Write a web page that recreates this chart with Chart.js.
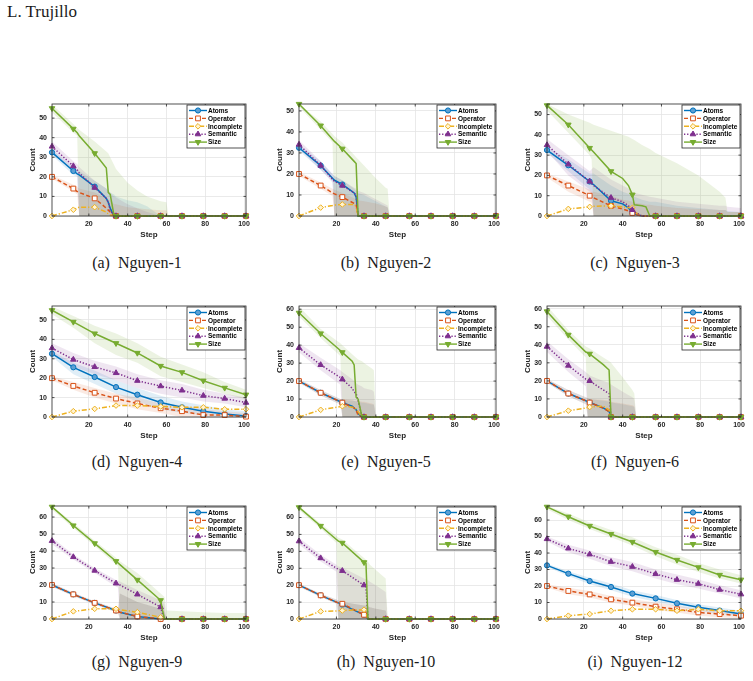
<!DOCTYPE html>
<html>
<head>
<meta charset="utf-8">
<script src="https://cdn.jsdelivr.net/npm/chart.js@4.4.1/dist/chart.umd.min.js"></script>
<style>
  body { margin: 0; background: #fff; width: 753px; height: 681px; position: relative; overflow: hidden; font-family: "Liberation Serif", serif; }
  .hdr { position: absolute; left: 7px; top: 2px; font-size: 17px; color: #1a1a1a; }
  .cap { position: absolute; width: 220px; text-align: center; font-size: 16px; color: #1a1a1a; white-space: pre; line-height: 18px; }
  canvas { position: absolute; }
</style>
</head>
<body>
<div class="hdr">L. Trujillo</div>
<script>
// marker positions (every ~11 steps) and x tick labels
const MARKS = [1, 12, 23, 34, 45, 57, 68, 79, 90, 101];
const X_TICKS = [20, 40, 60, 80, 100];
const SERIES = ["Atoms", "Operator", "Incomplete", "Semantic", "Size"];

// (a) Nguyen-1
const n1Steps = [1, 12, 14, 15, 23, 29, 30, 31, 33, 34, 40, 45, 50, 57, 60, 61, 68, 79, 90, 101];
const n1Atoms = [32.5, 23, 21.5, 21, 15, 9, 7, 4, 0, 0, 0, 0, 0, 0, 0, 0, 0, 0, 0, 0];
const n1Operator = [20, 14, 12.5, 12, 9, 4, 3, 2, 0, 0, 0, 0, 0, 0, 0, 0, 0, 0, 0, 0];
const n1Incomplete = [0, 3.2, 4, 4.5, 4.5, 2, 1, 0.5, 0, 0, 0, 0, 0, 0, 0, 0, 0, 0, 0, 0];
const n1Semantic = [35.5, 25.5, 23.5, 22, 14.5, 9, 7, 3, 0, 0, 0, 0, 0, 0, 0, 0, 0, 0, 0, 0];
const n1Size = [55, 44.5, 42.5, 41, 32, 24.5, 12, 11, 0, 0, 0, 0, 0, 0, 0, 0, 0, 0, 0, 0];
const n1SizeHi = [57, 47, 45, 44, 38, 33, 32, 30, 26, 24, 17, 13, 10, 7.5, 7, 0, 0, 0, 0, 0];
const n1SizeLo = [53, 42.5, 41, 0, 0, 0, 0, 0, 0, 0, 0, 0, 0, 0, 0, 0, 0, 0, 0, 0];
const n1SemHi = [38, 28, 26.5, 25, 18, 14, 13, 12, 10, 9.5, 6, 4, 2, 0, 0, 0, 0, 0, 0, 0];
const n1SemLo = [33, 23, 21.5, 0, 0, 0, 0, 0, 0, 0, 0, 0, 0, 0, 0, 0, 0, 0, 0, 0];
const n1AtomsHi = [34, 25, 24, 23, 18, 14, 13, 12, 11, 10, 8, 7, 5, 0, 0, 0, 0, 0, 0, 0];
const n1AtomsLo = [31, 21, 20, 0, 0, 0, 0, 0, 0, 0, 0, 0, 0, 0, 0, 0, 0, 0, 0, 0];
const n1OpHi = [21, 16, 15, 14, 12, 9, 8.5, 8, 6, 6, 4.5, 4, 3.5, 3, 3, 0, 0, 0, 0, 0];
const n1OpLo = [19, 12.5, 11, 0, 0, 0, 0, 0, 0, 0, 0, 0, 0, 0, 0, 0, 0, 0, 0, 0];

// (b) Nguyen-2
const n2Steps = [1, 12, 18, 19, 23, 29, 30, 31, 34, 40, 45, 46, 47, 57, 68, 79, 90, 101];
const n2Atoms = [32.5, 24, 18, 17, 15, 11, 9, 0, 0, 0, 0, 0, 0, 0, 0, 0, 0, 0];
const n2Operator = [20, 14.5, 11, 10.5, 9, 6, 5.5, 0, 0, 0, 0, 0, 0, 0, 0, 0, 0, 0];
const n2Incomplete = [0, 4, 5, 5.2, 5.5, 5.5, 4.5, 0, 0, 0, 0, 0, 0, 0, 0, 0, 0, 0];
const n2Semantic = [34, 24, 17.5, 16.5, 14.5, 11, 10, 0, 0, 0, 0, 0, 0, 0, 0, 0, 0, 0];
const n2Size = [53.3, 43, 36.5, 35.5, 32, 26, 25, 0, 0, 0, 0, 0, 0, 0, 0, 0, 0, 0];
const n2SizeHi = [53.3, 45, 39, 38, 35, 29, 28, 27, 24, 18, 13.5, 13, 0, 0, 0, 0, 0, 0];
const n2SizeLo = [52, 41, 35, 0, 0, 0, 0, 0, 0, 0, 0, 0, 0, 0, 0, 0, 0, 0];
const n2SemHi = [36, 26, 20, 19, 17, 13.5, 13, 12, 11, 8, 5.5, 5, 0, 0, 0, 0, 0, 0];
const n2SemLo = [32, 22, 16, 0, 0, 0, 0, 0, 0, 0, 0, 0, 0, 0, 0, 0, 0, 0];
const n2AtomsHi = [34, 26, 20, 19, 17, 13, 12, 11, 10, 7, 4.5, 4, 0, 0, 0, 0, 0, 0];
const n2AtomsLo = [31, 22, 16.5, 0, 0, 0, 0, 0, 0, 0, 0, 0, 0, 0, 0, 0, 0, 0];
const n2OpHi = [21, 16, 13, 12.5, 11, 8.5, 8, 7.5, 7, 6, 4.5, 4, 0, 0, 0, 0, 0, 0];
const n2OpLo = [19, 13, 9.5, 0, 0, 0, 0, 0, 0, 0, 0, 0, 0, 0, 0, 0, 0, 0];

// (c) Nguyen-3
const n3Steps = [1, 12, 23, 24, 25, 34, 40, 43, 45, 46, 50, 52, 54, 57, 68, 79, 90, 93, 94, 101];
const n3Atoms = [32.5, 25, 17, 16, 15.5, 7.5, 6, 4, 1.5, 1, 0, 0, 0, 0, 0, 0, 0, 0, 0, 0];
const n3Operator = [20, 15, 10, 9.5, 9, 5, 3.5, 2.5, 1.5, 1, 0, 0, 0, 0, 0, 0, 0, 0, 0, 0];
const n3Incomplete = [0, 3.5, 4.5, 4.7, 4.8, 5, 4.5, 4.2, 4, 2, 0, 0, 0, 0, 0, 0, 0, 0, 0, 0];
const n3Semantic = [35, 25.5, 17, 16, 15, 9, 7, 5, 3, 2, 0, 0, 0, 0, 0, 0, 0, 0, 0, 0];
const n3Size = [54.5, 45, 33.5, 32.5, 31.5, 22, 18.5, 15, 10.5, 5.5, 5, 4.5, 0, 0, 0, 0, 0, 0, 0, 0];
const n3SizeHi = [55.2, 50, 46, 45.5, 45, 42, 40, 39, 38, 37.5, 35, 34, 33, 31, 26, 20, 12, 9, 2, 2];
const n3SizeLo = [52, 41, 30, 28, 0, 0, 0, 0, 0, 0, 0, 0, 0, 0, 0, 0, 0, 0, 0, 0];
const n3SemHi = [38, 30, 22, 23, 24, 18, 15, 13.5, 12, 11.5, 10.5, 10, 9.5, 9, 7, 6, 5, 5, 4.5, 4];
const n3SemLo = [32, 20, 12, 11, 0, 0, 0, 0, 0, 0, 0, 0, 0, 0, 0, 0, 0, 0, 0, 0];
const n3AtomsHi = [34, 28, 21, 21, 21, 15, 12, 11, 10, 9.5, 8, 7.5, 7, 7, 5, 4, 3, 3, 2.5, 2];
const n3AtomsLo = [31, 22, 13, 12, 0, 0, 0, 0, 0, 0, 0, 0, 0, 0, 0, 0, 0, 0, 0, 0];
const n3OpHi = [21, 17, 13, 12, 12, 10, 8, 7.5, 7, 6.5, 6, 5.5, 5.5, 5, 4, 3.5, 3, 3, 2, 2];
const n3OpLo = [19, 12, 7, 6.5, 0, 0, 0, 0, 0, 0, 0, 0, 0, 0, 0, 0, 0, 0, 0, 0];

// (d) Nguyen-4
const n4Steps = [1, 12, 23, 34, 45, 57, 68, 79, 90, 101];
const n4Atoms = [32.6, 25.6, 20.6, 15.4, 11.5, 7.5, 5, 3, 1.5, 0.5];
const n4Operator = [20, 16, 12.5, 9.5, 7, 4.5, 3, 1, 1, 0.2];
const n4Incomplete = [0, 3, 4.2, 5.9, 5.9, 5.4, 5, 5, 4, 4];
const n4Semantic = [35.5, 29.6, 25.8, 22.7, 18.7, 15.9, 13.7, 11, 9.5, 7.4];
const n4Size = [55, 49, 43, 38, 33, 26.3, 23, 18.7, 15, 11.5];
const n4SizeHi = [57, 52, 47, 43, 38, 31, 27, 23, 18, 14];
const n4SizeLo = [53, 46, 38, 32, 28, 21, 18, 15, 12, 9];
const n4SemHi = [38, 33, 29, 26, 22, 19, 17, 14, 12, 10];
const n4SemLo = [33, 26, 22, 19, 15, 12, 10, 8, 7, 5];
const n4AtomsHi = [34, 28, 24, 19, 15, 11, 8, 6, 4, 3];
const n4AtomsLo = [31, 22, 17, 12, 8, 4, 2, 1, 0, 0];
const n4OpHi = [21, 18, 15, 12, 10, 7, 6, 4, 3, 2];
const n4OpLo = [19, 14, 10, 7, 4, 2, 0, 0, 0, 0];

// (e) Nguyen-5
const n5Steps = [1, 12, 22, 23, 28, 29, 30, 31, 33, 34, 38, 39, 40, 45, 57, 68, 79, 90, 101];
const n5Atoms = [20, 13.5, 8.5, 8, 6, 5, 4, 2, 0, 0, 0, 0, 0, 0, 0, 0, 0, 0, 0];
const n5Operator = [20, 13.5, 8.5, 8, 5.5, 5, 4, 1, 0, 0, 0, 0, 0, 0, 0, 0, 0, 0, 0];
const n5Incomplete = [0, 4, 5.8, 6, 5.5, 5, 4.5, 3, 0, 0, 0, 0, 0, 0, 0, 0, 0, 0, 0];
const n5Semantic = [38.5, 29, 22, 21, 16, 14, 13, 9, 0, 0, 0, 0, 0, 0, 0, 0, 0, 0, 0];
const n5Size = [58, 46.5, 37, 36, 31, 29, 11, 10, 0, 0, 0, 0, 0, 0, 0, 0, 0, 0, 0];
const n5SizeHi = [61.5, 49, 41, 40, 35, 34, 33, 32, 31, 30, 27, 26, 0, 0, 0, 0, 0, 0, 0];
const n5SizeLo = [56, 44, 34, 0, 0, 0, 0, 0, 0, 0, 0, 0, 0, 0, 0, 0, 0, 0, 0];
const n5SemHi = [41, 33, 26, 25, 21, 20, 19, 18, 17, 16, 15, 14, 0, 0, 0, 0, 0, 0, 0];
const n5SemLo = [36, 26, 18, 0, 0, 0, 0, 0, 0, 0, 0, 0, 0, 0, 0, 0, 0, 0, 0];
const n5AtomsHi = [21, 15, 10, 9.5, 9, 9, 8.5, 8.5, 8, 8, 7, 7, 0, 0, 0, 0, 0, 0, 0];
const n5AtomsLo = [19, 12, 7, 0, 0, 0, 0, 0, 0, 0, 0, 0, 0, 0, 0, 0, 0, 0, 0];
const n5OpHi = [21, 15, 10, 10, 9.5, 9, 9, 9, 8.5, 8.5, 7.5, 7, 0, 0, 0, 0, 0, 0, 0];
const n5OpLo = [19, 12, 7, 0, 0, 0, 0, 0, 0, 0, 0, 0, 0, 0, 0, 0, 0, 0, 0];

// (f) Nguyen-6
const n6Steps = [1, 12, 21, 22, 23, 30, 33, 34, 40, 45, 46, 47, 57, 68, 79, 90, 101];
const n6Atoms = [20, 13, 9, 8.5, 8, 5, 3, 0, 0, 0, 0, 0, 0, 0, 0, 0, 0];
const n6Operator = [20, 13, 9, 8.5, 8, 5, 3, 0, 0, 0, 0, 0, 0, 0, 0, 0, 0];
const n6Incomplete = [0, 3.5, 5, 5.2, 5.5, 6, 4, 0, 0, 0, 0, 0, 0, 0, 0, 0, 0];
const n6Semantic = [39, 28.5, 21, 20.5, 20, 15, 13, 0, 0, 0, 0, 0, 0, 0, 0, 0, 0];
const n6Size = [58.5, 45.5, 36, 35.5, 35, 29, 26, 0, 0, 0, 0, 0, 0, 0, 0, 0, 0];
const n6SizeHi = [61.5, 48, 39, 38.5, 38, 33, 31, 30, 22, 15, 13, 0, 0, 0, 0, 0, 0];
const n6SizeLo = [56, 43, 33, 0, 0, 0, 0, 0, 0, 0, 0, 0, 0, 0, 0, 0, 0];
const n6SemHi = [42, 32, 25, 24, 23, 20, 19, 18, 14, 11, 10, 0, 0, 0, 0, 0, 0];
const n6SemLo = [36, 25, 17, 0, 0, 0, 0, 0, 0, 0, 0, 0, 0, 0, 0, 0, 0];
const n6AtomsHi = [21, 15, 11, 10.5, 10, 9, 8.5, 8, 7, 6, 5.5, 0, 0, 0, 0, 0, 0];
const n6AtomsLo = [19, 11.5, 7, 0, 0, 0, 0, 0, 0, 0, 0, 0, 0, 0, 0, 0, 0];
const n6OpHi = [21, 15, 11, 10.5, 10, 9.5, 9, 8.5, 7.5, 6.5, 6, 0, 0, 0, 0, 0, 0];
const n6OpLo = [19, 11.5, 7, 0, 0, 0, 0, 0, 0, 0, 0, 0, 0, 0, 0, 0, 0];

// (g) Nguyen-9
const n9Steps = [1, 12, 23, 34, 35, 36, 45, 57, 58, 59, 60, 68, 79, 90, 101];
const n9Atoms = [20, 14.5, 9.5, 5, 4.5, 4, 1.5, 0, 0, 0, 0, 0, 0, 0, 0];
const n9Operator = [20, 14.5, 9.5, 5, 4.5, 4, 1.5, 0, 0, 0, 0, 0, 0, 0, 0];
const n9Incomplete = [0, 4.5, 6, 6, 5.8, 5.5, 4, 1, 0.5, 0, 0, 0, 0, 0, 0];
const n9Semantic = [46, 36.5, 28.5, 21, 20.5, 20, 14.5, 7, 3, 0, 0, 0, 0, 0, 0];
const n9Size = [66, 55, 44.5, 34, 33, 32, 23, 11, 5, 0, 0, 0, 0, 0, 0];
const n9SizeHi = [66.5, 56.5, 46, 36, 35, 34, 27, 15, 14, 13, 5, 4.5, 4, 3.5, 3.5];
const n9SizeLo = [64.5, 53.5, 43, 32, 31, 0, 0, 0, 0, 0, 0, 0, 0, 0, 0];
const n9SemHi = [48, 38, 30, 23, 22.5, 22, 17, 11, 10, 9, 0, 0, 0, 0, 0];
const n9SemLo = [44, 35, 27, 19, 18.5, 0, 0, 0, 0, 0, 0, 0, 0, 0, 0];
const n9AtomsHi = [21, 15.5, 10.5, 6, 6, 15, 10, 6, 5, 4, 0, 0, 0, 0, 0];
const n9AtomsLo = [19, 13.5, 8.5, 4, 3.5, 0, 0, 0, 0, 0, 0, 0, 0, 0, 0];
const n9OpHi = [21, 15.5, 10.5, 6, 6, 15, 10, 6, 5.5, 5, 0, 0, 0, 0, 0];
const n9OpLo = [19, 13.5, 8.5, 4, 3.5, 0, 0, 0, 0, 0, 0, 0, 0, 0, 0];

// (h) Nguyen-10
const n10Steps = [1, 12, 20, 21, 23, 34, 35, 36, 37, 40, 45, 46, 57, 68, 79, 90, 101];
const n10Atoms = [20, 14, 10, 9.5, 8.5, 2.5, 1.5, 0, 0, 0, 0, 0, 0, 0, 0, 0, 0];
const n10Operator = [20, 14, 10, 9.5, 9, 2.5, 1.5, 0, 0, 0, 0, 0, 0, 0, 0, 0, 0];
const n10Incomplete = [0, 4.5, 4.8, 4.9, 5, 5.5, 4, 0, 0, 0, 0, 0, 0, 0, 0, 0, 0];
const n10Semantic = [46, 36, 30, 29.5, 28.5, 20, 19, 0, 0, 0, 0, 0, 0, 0, 0, 0, 0];
const n10Size = [66, 55, 47, 46, 45, 33.5, 33, 0, 0, 0, 0, 0, 0, 0, 0, 0, 0];
const n10SizeHi = [66.8, 56.5, 49, 48, 47, 36, 35, 34, 32, 29, 24, 0, 0, 0, 0, 0, 0];
const n10SizeLo = [64.5, 53.5, 45, 0, 0, 0, 0, 0, 0, 0, 0, 0, 0, 0, 0, 0, 0];
const n10SemHi = [48, 38, 32, 31, 30.5, 24, 23.5, 23, 22, 20, 16, 0, 0, 0, 0, 0, 0];
const n10SemLo = [44, 34, 28, 0, 0, 0, 0, 0, 0, 0, 0, 0, 0, 0, 0, 0, 0];
const n10AtomsHi = [21, 15, 11.5, 11, 10, 8, 8, 7.5, 7, 6, 5, 0, 0, 0, 0, 0, 0];
const n10AtomsLo = [19, 13, 9, 0, 0, 0, 0, 0, 0, 0, 0, 0, 0, 0, 0, 0, 0];
const n10OpHi = [21, 15, 11.5, 11, 10, 8, 8, 7.5, 7, 6, 5, 0, 0, 0, 0, 0, 0];
const n10OpLo = [19, 13, 9, 0, 0, 0, 0, 0, 0, 0, 0, 0, 0, 0, 0, 0, 0];

// (i) Nguyen-12
const n12Steps = [1, 12, 23, 34, 45, 57, 68, 79, 90, 101];
const n12Atoms = [32.5, 27.5, 23, 19.4, 15.4, 12.5, 9.5, 7.1, 5.1, 3];
const n12Operator = [20, 17, 14.9, 11.9, 9.9, 7.5, 5.9, 4, 3, 2];
const n12Incomplete = [0, 2, 3, 5, 5.9, 5.9, 5, 5.9, 5, 5];
const n12Semantic = [48.5, 42.8, 39.2, 34.7, 31.7, 27.3, 23.8, 21.4, 17.8, 15];
const n12Size = [68, 62, 56.4, 51.5, 46.7, 40.6, 35.8, 31.3, 26.7, 23.8];
const n12SizeHi = [68.5, 64, 58.5, 54, 49.5, 43.5, 39, 34, 30, 26.5];
const n12SizeLo = [66.5, 60, 54.5, 49.5, 44.5, 38, 33, 28.5, 24.5, 21.5];
const n12SemHi = [50, 45, 41.5, 37.5, 34.5, 30, 27, 24, 20.5, 17.5];
const n12SemLo = [47, 40.5, 36.5, 32, 29, 24.5, 21, 18.5, 15.5, 12.5];
const n12AtomsHi = [33.5, 29, 25, 21.5, 17.5, 14.5, 11.5, 9, 7, 5];
const n12AtomsLo = [31.5, 26, 21, 17.5, 13.5, 10.5, 7.5, 5, 3, 1.5];
const n12OpHi = [21, 19, 17, 14, 12, 10, 8, 6, 5, 4];
const n12OpLo = [19, 15, 13, 10, 8, 5.5, 4, 2, 1, 0.5];

const panels = [
  { caption: "(a)  Nguyen-1", ymax: 57.2, steps: n1Steps, lines: [n1Atoms, n1Operator, n1Incomplete, n1Semantic, n1Size],
    bands: [[n1AtomsHi, n1AtomsLo], [n1OpHi, n1OpLo], null, [n1SemHi, n1SemLo], [n1SizeHi, n1SizeLo]] },
  { caption: "(b)  Nguyen-2", ymax: 53.3, steps: n2Steps, lines: [n2Atoms, n2Operator, n2Incomplete, n2Semantic, n2Size],
    bands: [[n2AtomsHi, n2AtomsLo], [n2OpHi, n2OpLo], null, [n2SemHi, n2SemLo], [n2SizeHi, n2SizeLo]] },
  { caption: "(c)  Nguyen-3", ymax: 55.2, steps: n3Steps, lines: [n3Atoms, n3Operator, n3Incomplete, n3Semantic, n3Size],
    bands: [[n3AtomsHi, n3AtomsLo], [n3OpHi, n3OpLo], null, [n3SemHi, n3SemLo], [n3SizeHi, n3SizeLo]] },
  { caption: "(d)  Nguyen-4", ymax: 57.2, steps: n4Steps, lines: [n4Atoms, n4Operator, n4Incomplete, n4Semantic, n4Size],
    bands: [[n4AtomsHi, n4AtomsLo], [n4OpHi, n4OpLo], null, [n4SemHi, n4SemLo], [n4SizeHi, n4SizeLo]] },
  { caption: "(e)  Nguyen-5", ymax: 61.8, steps: n5Steps, lines: [n5Atoms, n5Operator, n5Incomplete, n5Semantic, n5Size],
    bands: [[n5AtomsHi, n5AtomsLo], [n5OpHi, n5OpLo], null, [n5SemHi, n5SemLo], [n5SizeHi, n5SizeLo]] },
  { caption: "(f)  Nguyen-6", ymax: 61.5, steps: n6Steps, lines: [n6Atoms, n6Operator, n6Incomplete, n6Semantic, n6Size],
    bands: [[n6AtomsHi, n6AtomsLo], [n6OpHi, n6OpLo], null, [n6SemHi, n6SemLo], [n6SizeHi, n6SizeLo]] },
  { caption: "(g)  Nguyen-9", ymax: 66.5, steps: n9Steps, lines: [n9Atoms, n9Operator, n9Incomplete, n9Semantic, n9Size],
    bands: [[n9AtomsHi, n9AtomsLo], [n9OpHi, n9OpLo], null, [n9SemHi, n9SemLo], [n9SizeHi, n9SizeLo]] },
  { caption: "(h)  Nguyen-10", ymax: 66.8, steps: n10Steps, lines: [n10Atoms, n10Operator, n10Incomplete, n10Semantic, n10Size],
    bands: [[n10AtomsHi, n10AtomsLo], [n10OpHi, n10OpLo], null, [n10SemHi, n10SemLo], [n10SizeHi, n10SizeLo]] },
  { caption: "(i)  Nguyen-12", ymax: 68.5, steps: n12Steps, lines: [n12Atoms, n12Operator, n12Incomplete, n12Semantic, n12Size],
    bands: [[n12AtomsHi, n12AtomsLo], [n12OpHi, n12OpLo], null, [n12SemHi, n12SemLo], [n12SizeHi, n12SizeLo]] },
];

// page layout (plot area edges in page pixels)
const colLeft = [52, 299, 547];
const colRight = [247, 497, 742];
const rowTop = [103, 305, 505];
const rowBottom = [216, 417, 619];
const capX = [137, 386, 635];
const capY = [263, 462, 662];

const STYLE = {
  Atoms:      { color: "#0072BD", fill: "#5d9fd3", band: "rgba(0,114,189,0.12)",   dash: [],             point: "circle",   rot: 0,   r: 2.6 },
  Operator:   { color: "#D95319", fill: "#ffffff", band: "rgba(217,83,25,0.12)",   dash: [4, 2.5],       point: "rect",     rot: 0,   r: 3.4 },
  Incomplete: { color: "#EDB120", fill: "#fff3d2", band: "rgba(237,177,32,0.10)",  dash: [5, 2, 1.2, 2], point: "rectRot",  rot: 0,   r: 2.8 },
  Semantic:   { color: "#7E2F8E", fill: "#7E2F8E", band: "rgba(126,47,142,0.12)",  dash: [1.3, 1.8],     point: "triangle", rot: 0,   r: 3.2 },
  Size:       { color: "#77AC30", fill: "#77AC30", band: "rgba(119,172,48,0.14)",  dash: [],             point: "triangle", rot: 180, r: 3.2 },
};
const TXT = "#262626";

function drawMarker(ctx, st, x, y) {
  const r = st.r;
  ctx.beginPath();
  if (st.point === "circle") {
    ctx.arc(x, y, r, 0, Math.PI * 2);
  } else if (st.point === "rect") {
    const s = r * Math.SQRT1_2;
    ctx.rect(x - s, y - s, 2 * s, 2 * s);
  } else if (st.point === "rectRot") {
    ctx.moveTo(x, y - r); ctx.lineTo(x + r, y); ctx.lineTo(x, y + r); ctx.lineTo(x - r, y);
  } else {
    const a0 = st.rot * Math.PI / 180;
    for (let k = 0; k < 3; k++) {
      const a = a0 + k * 2 * Math.PI / 3;
      const px = x + Math.sin(a) * r, py = y - Math.cos(a) * r;
      k ? ctx.lineTo(px, py) : ctx.moveTo(px, py);
    }
  }
  ctx.closePath();
  ctx.fillStyle = st.fill; ctx.fill();
  ctx.strokeStyle = st.color; ctx.lineWidth = 1; ctx.stroke();
}

// black box round the axes with small inward ticks, MATLAB style
const axesBox = {
  id: "axesBox",
  afterDatasetsDraw(chart) {
    const { ctx, chartArea: a, scales } = chart;
    ctx.save();
    ctx.strokeStyle = TXT; ctx.lineWidth = 0.8;
    ctx.strokeRect(a.left, a.top, a.right - a.left, a.bottom - a.top);
    ctx.beginPath();
    scales.x.ticks.forEach(t => {
      const px = scales.x.getPixelForValue(t.value);
      ctx.moveTo(px, a.bottom); ctx.lineTo(px, a.bottom - 2.5);
      ctx.moveTo(px, a.top); ctx.lineTo(px, a.top + 2.5);
    });
    scales.y.ticks.forEach(t => {
      const py = scales.y.getPixelForValue(t.value);
      ctx.moveTo(a.left, py); ctx.lineTo(a.left + 2.5, py);
      ctx.moveTo(a.right, py); ctx.lineTo(a.right - 2.5, py);
    });
    ctx.stroke();
    ctx.restore();
  }
};

// legend box inside the top right corner
const legendBox = {
  id: "legendBox",
  afterDraw(chart) {
    const { ctx, chartArea: a } = chart;
    const w = 58, h = 43, x0 = a.right - w - 1, y0 = a.top + 1;
    ctx.save();
    ctx.fillStyle = "#fff";
    ctx.fillRect(x0, y0, w, h);
    ctx.strokeStyle = TXT; ctx.lineWidth = 0.8;
    ctx.strokeRect(x0, y0, w, h);
    SERIES.forEach((name, i) => {
      const st = STYLE[name];
      const y = y0 + 5.5 + i * 7.9;
      ctx.strokeStyle = st.color; ctx.lineWidth = 1.4;
      ctx.setLineDash(st.dash);
      ctx.beginPath(); ctx.moveTo(x0 + 2, y); ctx.lineTo(x0 + 20, y); ctx.stroke();
      ctx.setLineDash([]);
      drawMarker(ctx, st, x0 + 11, y);
      ctx.fillStyle = "#000";
      ctx.font = 'bold 6.5px "Liberation Sans"';
      ctx.textBaseline = "middle";
      ctx.fillText(name, x0 + 21, y + 0.5);
    });
    ctx.restore();
  }
};

function makeChart(p, i) {
  const col = i % 3, row = Math.floor(i / 3);
  const L = colLeft[col], R = colRight[col], T = rowTop[row], B = rowBottom[row];
  const w = R - L + 28 + 4, h = B - T + 4 + 28;
  const cv = document.createElement("canvas");
  cv.width = w; cv.height = h;
  cv.style.left = (L - 28) + "px"; cv.style.top = (T - 4) + "px";
  cv.style.width = w + "px"; cv.style.height = h + "px";
  document.body.appendChild(cv);

  const cap = document.createElement("div");
  cap.className = "cap";
  cap.textContent = p.caption;
  cap.style.left = (capX[col] - 110) + "px";
  cap.style.top = (capY[row] - 9) + "px";
  document.body.appendChild(cap);

  const datasets = [];
  SERIES.forEach((name, k) => {
    const st = STYLE[name];
    datasets.push({
      label: name,
      data: p.steps.map((s, j) => ({ x: s, y: p.lines[k][j] })),
      borderColor: st.color,
      backgroundColor: st.fill,
      pointBackgroundColor: st.fill,
      pointBorderColor: st.color,
      borderWidth: 1.5,
      borderDash: st.dash,
      pointStyle: st.point,
      pointRotation: st.rot,
      pointRadius: c => (c.raw && MARKS.includes(c.raw.x)) ? st.r : 0,
      pointBorderWidth: 1,
      fill: false,
      tension: 0,
      clip: 8,
      order: 5 - k,
    });
    const band = p.bands[k];
    if (band) {
      const [hi, lo] = band;
      const top = p.steps.map((s, j) => ({ x: s, y: hi[j] }));
      const bottom = p.steps.map((s, j) => ({ x: s, y: lo[j] })).reverse();
      datasets.push({
        label: name + " band",
        data: top.concat(bottom),
        borderWidth: 0,
        borderColor: "rgba(0,0,0,0)",
        backgroundColor: st.band,
        pointRadius: 0,
        fill: "shape",
        tension: 0,
        order: 20 - k,
      });
    }
  });

  const tickFont = { family: "Liberation Sans", size: 7, weight: "bold" };
  const titleFont = { family: "Liberation Sans", size: 8, weight: "bold" };

  new Chart(cv, {
    type: "line",
    data: { datasets },
    options: {
      responsive: false,
      animation: false,
      devicePixelRatio: 1,
      layout: { padding: { top: 4, right: 4, left: 0, bottom: 0 } },
      plugins: { legend: { display: false }, tooltip: { enabled: false } },
      scales: {
        x: {
          type: "linear", min: 1, max: 101,
          grid: { color: "#e4e4e4", lineWidth: 0.8, drawTicks: false },
          border: { display: false },
          ticks: { font: tickFont, color: TXT, padding: 4, autoSkip: false, maxRotation: 0 },
          afterBuildTicks: s => { s.ticks = X_TICKS.map(v => ({ value: v })); },
          afterFit: s => { s.height = 28; s.paddingLeft = 0; s.paddingRight = 0; },
          title: { display: true, text: "Step", font: titleFont, color: TXT, padding: { top: 0, bottom: 4 } },
        },
        y: {
          min: 0, max: p.ymax,
          grid: { color: "#e4e4e4", lineWidth: 0.8, drawTicks: false },
          border: { display: false },
          ticks: { font: tickFont, color: TXT, padding: 5, autoSkip: false },
          afterBuildTicks: s => {
            const t = [];
            for (let v = 0; v <= p.ymax; v += 10) t.push({ value: v });
            s.ticks = t;
          },
          afterFit: s => { s.width = 28; s.paddingTop = 0; s.paddingBottom = 0; },
          title: { display: true, text: "Count", font: titleFont, color: TXT, padding: { top: 4, bottom: 0 } },
        },
      },
    },
    plugins: [axesBox, legendBox],
  });
}

panels.forEach(makeChart);
</script>
</body>
</html>
